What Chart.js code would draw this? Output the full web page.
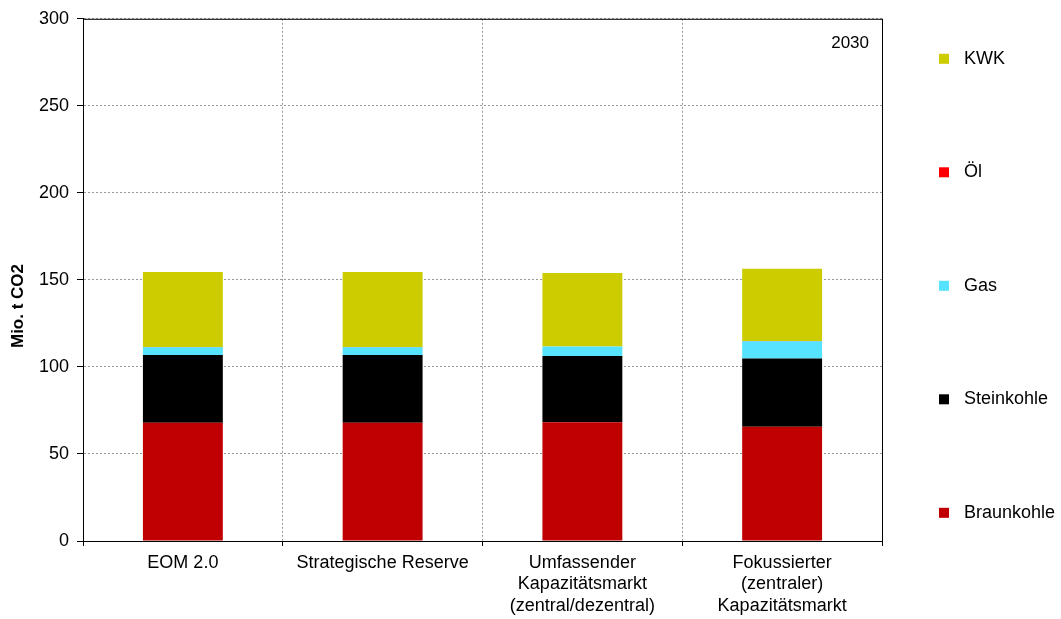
<!DOCTYPE html>
<html lang="de">
<head>
<meta charset="utf-8">
<title>CO2-Emissionen 2030</title>
<script src="https://cdn.jsdelivr.net/npm/chart.js@4/dist/chart.umd.min.js"></script>
<style>
    html, body { margin: 0; padding: 0; background: #fff; }
    #wrap { width: 1061px; height: 619px; position: relative; }
</style>
</head>
<body>
<div id="wrap"><canvas id="co2Chart"></canvas></div>
<script>
// Daten
const kategorien = [
    'EOM 2.0',
    'Strategische Reserve',
    ['Umfassender', 'Kapazitätsmarkt', '(zentral/dezentral)'],
    ['Fokussierter', '(zentraler)', 'Kapazitätsmarkt']
];
const braunkohle = [68.0, 68.0, 68.2, 65.7];
const steinkohle = [38.9, 38.9, 38.1, 39.1];
const gas = [4.4, 4.4, 5.4, 10.0];
const oel = [0.1, 0.1, 0.1, 0.1];
const kwk = [43.1, 43.1, 42.2, 41.5];
const yTicks = [0, 50, 100, 150, 200, 250, 300];
const jahr = '2030';
const achsenTitel = 'Mio. t CO2';

const FONT = '"Liberation Sans", Arial, sans-serif';

// Rahmen, Legende, Jahr und Achsentitel
const extras = {
    id: 'extras',
    afterDatasetsDraw(chart) {
        const { ctx, chartArea: a } = chart;
        ctx.save();

        ctx.strokeStyle = '#000';
        ctx.lineWidth = 1;
        ctx.setLineDash([]);
        ctx.strokeRect(a.left + 0.5, a.top + 0.5, a.right - a.left, a.bottom - a.top);

        ctx.fillStyle = '#000';
        ctx.font = `17px ${FONT}`;
        ctx.textAlign = 'right';
        ctx.textBaseline = 'middle';
        ctx.fillText(jahr, a.right - 13, a.top + 25);

        // Legende (umgekehrte Reihenfolge)
        const eintraege = chart.data.datasets.slice().reverse();
        ctx.font = `18px ${FONT}`;
        ctx.textAlign = 'left';
        eintraege.forEach((ds, i) => {
            const y = a.top + 40 + i * 113.5;
            ctx.fillStyle = ds.backgroundColor;
            ctx.fillRect(a.right + 57, y - 5, 10, 10);
            ctx.fillStyle = '#000';
            ctx.fillText(ds.label, a.right + 82, y);
        });

        // Achsentitel
        ctx.translate(18, 306);
        ctx.rotate(-Math.PI / 2);
        ctx.font = `bold 17px ${FONT}`;
        ctx.textAlign = 'center';
        ctx.fillText(achsenTitel, 0, 0);

        ctx.restore();
    }
};

const ctx = document.getElementById('co2Chart');

new Chart(ctx, {
    type: 'bar',
    data: {
        labels: kategorien,
        datasets: [
            { label: 'Braunkohle', data: braunkohle, backgroundColor: '#c00000' },
            { label: 'Steinkohle', data: steinkohle, backgroundColor: '#000000' },
            { label: 'Gas', data: gas, backgroundColor: '#55e3ff' },
            { label: 'Öl', data: oel, backgroundColor: '#ff0000' },
            { label: 'KWK', data: kwk, backgroundColor: '#cccc00' }
        ]
    },
    options: {
        responsive: true,
        maintainAspectRatio: false,
        animation: false,
        barPercentage: 0.4,
        categoryPercentage: 1.0,
        layout: {
            padding: { top: 18, right: 179, bottom: 0, left: 0 }
        },
        plugins: {
            legend: { display: false },
            tooltip: { enabled: false }
        },
        scales: {
            x: {
                stacked: true,
                grid: {
                    offset: true,
                    color: '#999',
                    tickColor: '#000',
                    tickLength: 5,
                    lineWidth: 1
                },
                border: { color: '#000', dash: [2, 2] },
                ticks: {
                    color: '#000',
                    font: { family: FONT, size: 18 },
                    padding: 6,
                    maxRotation: 0,
                    autoSkip: false
                },
                afterFit: scale => { scale.height = 78; }
            },
            y: {
                stacked: true,
                min: 0,
                max: 300,
                afterBuildTicks: scale => {
                    scale.ticks = yTicks.map(v => ({ value: v }));
                },
                grid: {
                    color: '#999',
                    tickColor: '#000',
                    tickLength: 6,
                    lineWidth: 1
                },
                border: { color: '#000', dash: [2, 2] },
                ticks: {
                    color: '#000',
                    font: { family: FONT, size: 18 },
                    padding: 8
                },
                afterFit: scale => { scale.width = 83; }
            }
        }
    },
    plugins: [extras]
});
</script>
</body>
</html>
